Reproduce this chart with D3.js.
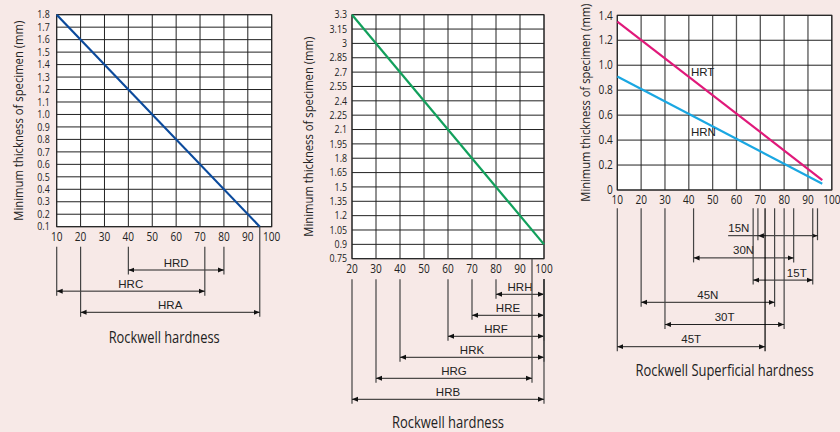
<!DOCTYPE html>
<html><head><meta charset="utf-8">
<script src="https://cdn.jsdelivr.net/npm/d3@7"></script>
<style>
body{margin:0;background:#f7e9e7}
text{fill:#222}
.cond{font-family:'Open Sans','Liberation Sans',sans-serif}
.lab{font-family:'Liberation Sans',Arial,sans-serif;font-size:11.5px}
</style></head><body>
<svg id="c" width="840" height="432"></svg>
<script>
// ---------- data ----------
const leftXTicks = ["10","20","30","40","50","60","70","80","90","100"];
const leftYTicks = ["0.1","0.2","0.3","0.4","0.5","0.6","0.7","0.8","0.9","1.0","1.1","1.2","1.3","1.4","1.5","1.6","1.7","1.8"];
const leftLine = [[10,1.8],[95,0.1]];
const leftRanges = [["HRD",40,80],["HRC",10,72],["HRA",20,95]];

const midXTicks = ["20","30","40","50","60","70","80","90","100"];
const midYTicks = ["0.75","0.9","1.05","1.2","1.35","1.5","1.65","1.8","1.95","2.1","2.25","2.4","2.55","2.7","2.85","3","3.15","3.3"];
const midLine = [[20,3.3],[100,0.9]];
const midRanges = [["HRH",80,100],["HRE",70,100],["HRF",60,100],["HRK",40,100],["HRG",30,95],["HRB",20,100]];

const supXTicks = ["10","20","30","40","50","60","70","80","90","100"];
const supYTicks = ["0","0.2","0.4","0.6","0.8","1.0","1.2","1.4"];
const hrtLine = [[10,1.35],[96,0.08]];
const hrnLine = [[10,0.91],[96,0.05]];
const supRanges = [["15N",69,94],["30N",42,84],["15T",67,92],["45N",20,76],["30T",30,80],["45T",10,72]];

const yTitle = "Minimum thickness of specimen (mm)";

// ---------- drawing ----------
const SX = 0.84;
const svg = d3.select("#c");
svg.append("rect").attr("width",840).attr("height",432).attr("fill","#f7e9e7");
const defs = svg.append("defs");
defs.append("marker").attr("id","arr").attr("markerUnits","userSpaceOnUse")
  .attr("markerWidth",6).attr("markerHeight",6).attr("refX",6).attr("refY",3)
  .attr("orient","auto-start-reverse")
  .append("path").attr("d","M0,0.5L6,3L0,5.5Z").attr("fill","#111");

function chart(o){
  const g = svg.append("g");
  const xv = o.xTicks.map(Number), yv = o.yTicks.map(Number);
  const x = d3.scaleLinear().domain([xv[0], xv[xv.length-1]]).range(o.xr);
  const y = d3.scaleLinear().domain([yv[0], yv[yv.length-1]]).range(o.yr);
  g.append("rect").attr("x",o.xr[0]).attr("y",o.yr[1]).attr("width",o.xr[1]-o.xr[0]).attr("height",o.yr[0]-o.yr[1]).attr("fill","#fff");
  g.selectAll(".vg").data(xv).join("line").attr("x1",d=>x(d)).attr("x2",d=>x(d)).attr("y1",o.yr[0]).attr("y2",o.yr[1])
    .attr("stroke",o.vgColor||"#222").attr("stroke-width",o.vgW||1);
  g.selectAll(".hg").data(yv).join("line").attr("y1",d=>y(d)).attr("y2",d=>y(d)).attr("x1",o.xr[0]).attr("x2",o.xr[1])
    .attr("stroke","#222").attr("stroke-width",1);
  g.append("rect").attr("x",o.xr[0]).attr("y",o.yr[1]).attr("width",o.xr[1]-o.xr[0]).attr("height",o.yr[0]-o.yr[1])
    .attr("fill","none").attr("stroke","#222").attr("stroke-width",1);
  g.selectAll(".xt").data(o.xTicks).join("text").attr("class","cond").attr("font-size",o.xfs)
    .attr("transform",d=>`translate(${x(+d)},${o.yr[0]+o.xtOff}) scale(${SX},1)`)
    .attr("text-anchor","middle").text(d=>d);
  g.selectAll(".yt").data(o.yTicks).join("text").attr("class","cond").attr("font-size",o.yfs)
    .attr("transform",d=>`translate(${o.xr[0]-o.ytOff},${y(+d)}) scale(${SX},1)`)
    .attr("dy","0.35em").attr("text-anchor","end").text(d=>d);
  g.append("text").attr("class","cond").attr("font-size",12.5)
    .attr("transform",`translate(${o.ytx},${(o.yr[0]+o.yr[1])/2}) rotate(-90)`)
    .attr("text-anchor","middle").attr("dy","0.35em")
    .attr("textLength",o.ytLen).attr("lengthAdjust","spacingAndGlyphs").text(yTitle);
  const line = d3.line().x(d=>x(d[0])).y(d=>y(d[1]));
  o.lines.forEach(l=>{
    g.append("path").attr("d",line(l.data)).attr("fill","none").attr("stroke",l.color).attr("stroke-width",2.2);
    if(l.label) g.append("text").attr("class","lab").attr("font-size","11px").attr("x",x(l.label[0])).attr("y",y(l.label[1])).text(l.name);
  });
  const names = o.ranges.map(r=>r[0]);
  const ry = d3.scalePoint().domain(names).range(o.rowR);
  o.ranges.forEach(r=>{
    const [n,a,b] = r, yy = ry(n);
    [a,b].forEach(v=>{
      const top = (o.fromPlot||[]).includes(v) ? o.yr[0] : o.vTop;
      g.append("line").attr("x1",x(v)).attr("x2",x(v)).attr("y1",top).attr("y2",yy+4.5)
        .attr("stroke",v===o.blackV?"#000":"#444").attr("stroke-width",1.2);
    });
    g.append("line").attr("x1",x(a)).attr("x2",x(b)).attr("y1",yy).attr("y2",yy)
      .attr("stroke","#222").attr("stroke-width",1)
      .attr("marker-start","url(#arr)").attr("marker-end","url(#arr)");
    let lx = (a+b)/2;
    if(o.labelAt && o.labelAt[n]!==undefined) lx = o.labelAt[n];
    if(o.leader && o.leader[n]!==undefined)
      g.append("line").attr("x1",x(o.leader[n])).attr("x2",x(a)).attr("y1",yy).attr("y2",yy).attr("stroke","#222");
    g.append("text").attr("class","lab").attr("x",x(lx)).attr("y",yy-3.5).attr("text-anchor","middle").text(n);
  });
  g.append("text").attr("class","cond").attr("font-size",16).attr("x",(o.xr[0]+o.xr[1])/2).attr("y",o.titleY)
    .attr("text-anchor","middle").attr("textLength",o.titleLen).attr("lengthAdjust","spacingAndGlyphs").text(o.title);
}

chart({xTicks:leftXTicks,yTicks:leftYTicks,xr:[56.7,271.7],yr:[226.7,14.7],xtOff:14.5,ytOff:7,yfs:10.5,xfs:12,
  ytx:19,ytLen:200,lines:[{data:leftLine,color:"#0b4a9c"}],ranges:leftRanges,rowR:[270,312.3],vTop:246.7,fromPlot:[95],
  title:"Rockwell hardness",titleY:342.5,titleLen:111});
chart({xTicks:midXTicks,yTicks:midYTicks,xr:[352,544],yr:[258.7,14.7],xtOff:14,ytOff:5,yfs:10.5,xfs:12,
  ytx:309,ytLen:200,lines:[{data:midLine,color:"#12a05c"}],ranges:midRanges,rowR:[294.3,399.3],vTop:279.3,fromPlot:[95],
  title:"Rockwell hardness",titleY:427.5,titleLen:112});
chart({xTicks:supXTicks,yTicks:supYTicks,xr:[617.3,831.8],yr:[190,15.3],xtOff:14,ytOff:4.5,yfs:12,xfs:12,
  ytx:586,ytLen:198,vgColor:"#555",vgW:1.3,
  lines:[{data:hrtLine,color:"#e0197a",name:"HRT",label:[40.9,0.915]},{data:hrnLine,color:"#1aa7e2",name:"HRN",label:[40.9,0.43]}],
  ranges:supRanges,rowR:[235.7,346.7],vTop:208.3,blackV:72,
  labelAt:{"15N":61,"15T":85.3},leader:{"15N":56.5},
  title:"Rockwell Superficial hardness",titleY:376,titleLen:178});
</script>
</body></html>
